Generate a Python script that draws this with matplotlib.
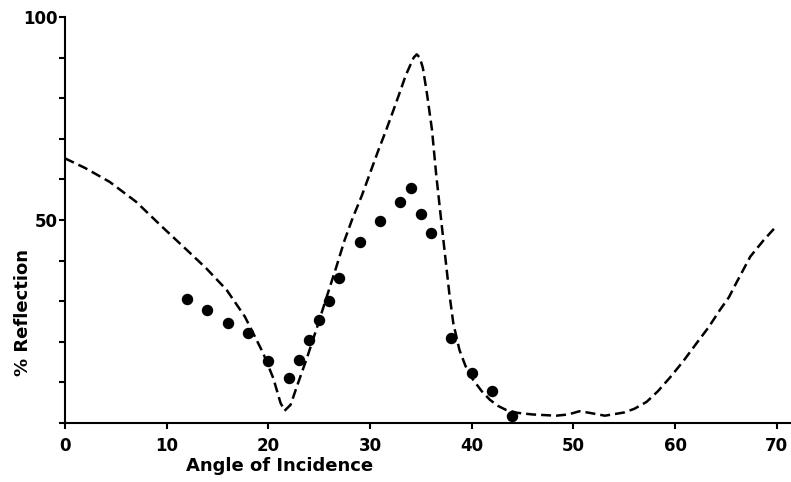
import matplotlib
matplotlib.use("Agg")
import matplotlib.pyplot as plt

# theoretical reflectivity curve (dashed)
curve_angle = [0, 2, 4.4, 7, 9.7, 12, 13.9, 15.9, 17.7, 19.5, 20.5, 21.2, 21.6,
               22.2, 22.8, 23.8, 24.8, 25.8, 26.7, 27.5, 28.3, 29.2, 30, 30.8,
               31.6, 32.3, 32.9, 33.5, 33.9, 34.3, 34.6, 34.9, 35.2, 35.6, 36.1,
               36.5, 37, 37.4, 37.8, 38.2, 38.8, 39.4, 40.1, 41, 41.8, 42.6,
               43.4, 44.5, 46, 48.3, 49.5, 50.6, 51.6, 53.1, 55, 56, 57.2, 58.3,
               59.5, 60.8, 62.1, 63.3, 64.4, 65.3, 66, 67.4, 68.7, 70]
curve_refl = [65.2, 62.8, 59.4, 54.5, 48, 42.6, 38.1, 32.8, 26.2, 17.2, 11, 5, 3.0,
              4.5, 8.9, 16, 23.6, 31.5, 38.5, 45, 50.5, 56, 61.5, 67,
              72.2, 77, 81.2, 85.5, 87.8, 90, 90.8, 90, 87.5, 81.2, 72.2,
              61.5, 50, 41, 32, 24.5, 18, 14, 10.8, 7.8, 5.7, 4.2,
              3.2, 2.5, 2.1, 1.8, 2.1, 2.9, 2.5, 1.8, 2.6, 3.5, 5.2, 7.8,
              11.2, 15.2, 19.6, 23.6, 27.8, 31, 34.4, 41, 45, 48.6]

# measured values (dots)
meas_angle = [12, 14, 16, 18, 20, 22, 23, 24, 25, 26, 27, 29, 31, 33, 34,
              35, 36, 38, 40, 42, 44]
meas_refl = [30.5, 27.8, 24.7, 22.1, 15.3, 11.0, 15.5, 20.4, 25.4, 30.1, 35.6,
             44.5, 49.8, 54.4, 58.0, 51.5, 46.7, 21.0, 12.2, 8.0, 1.7]

x_ticks = [0, 10, 20, 30, 40, 50, 60, 70]
y_ticks = [0, 10, 20, 30, 40, 50, 60, 70, 80, 90, 100]
y_labels = ['', '', '', '', '', '50', '', '', '', '', '100']

plt.rcParams['font.family'] = ['DejaVu Sans']

fig = plt.figure(figsize=(7.91, 4.82), dpi=100)
ax = fig.add_axes([0.082, 0.1224, 0.918, 0.8423])

ax.plot(curve_angle, curve_refl, color='black', lw=1.8, linestyle=(0, (4, 2)))
ax.scatter(meas_angle, meas_refl, s=52, color='black', zorder=3)

ax.set_xlim(0, 71.4)
ax.set_ylim(0, 100)
for side in ['top', 'right']:
    ax.spines[side].set_visible(False)
for side in ['left', 'bottom']:
    ax.spines[side].set_linewidth(1.5)

ax.set_xticks(x_ticks)
ax.set_yticks(y_ticks)
ax.set_yticklabels(y_labels)
ax.tick_params(axis='x', direction='out', length=4, width=1.5, pad=6,
               labelsize=12)
ax.tick_params(axis='y', direction='out', length=4, width=1.5, pad=1,
               labelsize=12)
for lbl in ax.get_xticklabels() + ax.get_yticklabels():
    lbl.set_fontweight('bold')

ax.text(0.296, -0.106, 'Angle of Incidence', transform=ax.transAxes,
        ha='center', va='center', fontsize=13, fontweight='bold')
ax.text(-0.058, 0.273, '% Reflection', transform=ax.transAxes,
        ha='center', va='center', rotation=90, fontsize=13, fontweight='bold')

fig.savefig('out.png', dpi=100)
